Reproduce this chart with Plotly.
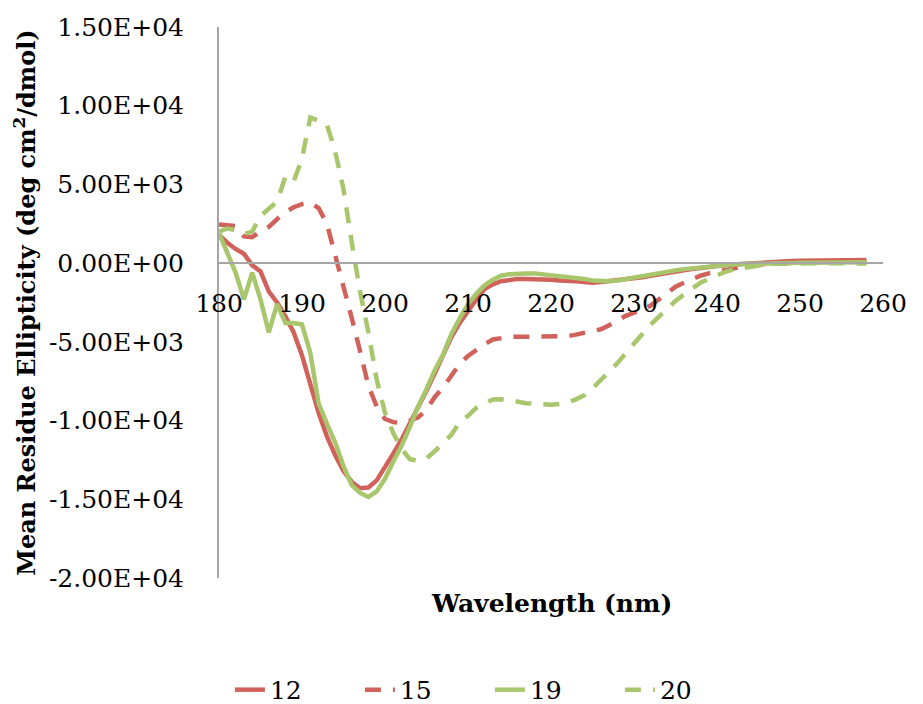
import plotly.graph_objects as go

# Wavelength grid (nm)
wavelength = list(range(180, 259))

# Mean residue ellipticity (deg cm^2/dmol) for each sample
mre_12 = [
    1800, 1300, 900, 600, -140, -520, -1800, -2500, -3380, -4400,
    -5860, -7700, -9500, -11000, -12200, -13200, -13900, -14300, -14250, -13800,
    -13000, -12100, -11200, -10200, -9100, -8100, -7000, -5900, -4700, -3800,
    -3000, -2300, -1650, -1350, -1150, -1050, -1000, -1000, -1000, -1050,
    -1050, -1100, -1100, -1150, -1200, -1250, -1200, -1150, -1100, -1050,
    -950, -900, -800, -700, -600, -520, -450, -380, -300, -230,
    -170, -120, -80, -40, 0, 30, 60, 90, 110, 130,
    150, 160, 170, 180, 190, 200, 200, 200, 200,
]
mre_15 = [
    2450, 2400, 2350, 1700, 1650, 2000, 2300, 2800, 3250, 3550,
    3750, 3850, 3500, 2500, 500, -1300, -3500, -5600, -7800, -9100,
    -9900, -10100, -10150, -10000, -9800, -9300, -8500, -7900, -7180, -6400,
    -5900, -5480, -5150, -4850, -4750, -4680, -4680, -4680, -4680, -4680,
    -4680, -4660, -4640, -4540, -4420, -4300, -4200, -3950, -3650, -3350,
    -3150, -2950, -2700, -2300, -1900, -1500, -1250, -1000, -800, -650,
    -550, -420, -300, -200, -130, -80, -40, 0, 20, 40,
    50, 60, 70, 80, 90, 90, 100, 100, 100,
]
mre_19 = [
    1900, 600, -600, -2300, -600, -2300, -4400, -2600, -3800, -3800,
    -3900, -5700, -8900, -10200, -11400, -12900, -14100, -14600, -14850, -14500,
    -13700, -12600, -11600, -10400, -9100, -8000, -6800, -5800, -4500, -3500,
    -2600, -1950, -1400, -1050, -800, -700, -650, -650, -650, -700,
    -750, -800, -850, -900, -1000, -1100, -1150, -1150, -1100, -1000,
    -900, -800, -700, -620, -540, -460, -380, -320, -260, -200,
    -150, -110, -80, -60, -40, -30, -20, -10, 0, 10,
    20, 30, 40, 40, 50, 50, 60, 60, 60,
]
mre_20 = [
    2000, 2200, 2100, 1850, 2000, 3000, 3450, 3900, 5500, 5200,
    6650, 9250, 9050, 8800, 7100, 4700, 1300, -1800, -4400, -7400,
    -9500, -10800, -11800, -12450, -12550, -12400, -11950, -11400, -10900, -10100,
    -9700, -9200, -8900, -8660, -8650, -8700, -8800, -8900, -8950, -9000,
    -9000, -8950, -8850, -8650, -8400, -7950, -7450, -6900, -6350, -5700,
    -5150, -4500, -3900, -3400, -2900, -2400, -2000, -1600, -1250, -1000,
    -750, -550, -400, -300, -200, -120, -70, -40, -20, 0,
    0, 0, 0, 0, 0, 0, -20, -20, -20,
]

series_names = ["12", "15", "19", "20"]
series_values = [mre_12, mre_15, mre_19, mre_20]
series_colors = ["#D0625B", "#D0625B", "#A8C66C", "#A8C66C"]
series_dashes = ["solid", "16px,12px", "solid", "16px,12px"]

x_ticks = [180, 190, 200, 210, 220, 230, 240, 250, 260]
y_ticks = [15000, 10000, 5000, 0, -5000, -10000, -15000, -20000]
y_tick_text = ["1.50E+04", "1.00E+04", "5.00E+03", "0.00E+00",
               "-5.00E+03", "-1.00E+04", "-1.50E+04", "-2.00E+04"]

x_range = [180, 260]
y_range = [-20000, 15000]

fig = go.Figure()
for name, vals, color, dash in zip(series_names, series_values, series_colors, series_dashes):
    fig.add_trace(go.Scatter(
        x=wavelength, y=vals, mode="lines", name=name,
        line=dict(color=color, width=4.5, dash=dash),
    ))

axis_color = "#A6A6A6"
# horizontal axis crosses the vertical axis at zero
zero_pos = (0 - y_range[0]) / (y_range[1] - y_range[0])

fig.update_layout(
    width=923, height=704,
    margin=dict(l=219, r=40, t=27, b=126, autoexpand=False),
    plot_bgcolor="white", paper_bgcolor="white",
    font=dict(family="DejaVu Serif", size=25, color="black"),
    showlegend=True,
    legend=dict(
        orientation="h", x=0.408, xanchor="center",
        yref="container", y=0.02, yanchor="middle",
        font=dict(size=25), entrywidth=85, tracegroupgap=0,
    ),
    xaxis=dict(
        range=x_range, tickvals=x_ticks, showgrid=False, zeroline=False,
        showline=True, linecolor=axis_color, linewidth=2,
        anchor="free", position=zero_pos, ticks="", ticklabelstandoff=18,
    ),
    yaxis=dict(
        range=y_range, tickvals=y_ticks, ticktext=y_tick_text,
        showgrid=False, zeroline=False, showline=True,
        linecolor=axis_color, linewidth=2, ticks="", ticklabelstandoff=28,
        title=dict(
            text="<b>Mean Residue Ellipticity (deg cm<sup>2</sup>/dmol)</b>",
            font=dict(size=24), standoff=6,
        ),
    ),
    annotations=[dict(
        text="<b>Wavelength (nm)</b>", xref="paper", yref="paper",
        x=0.5, y=-0.047, xanchor="center", yanchor="middle",
        showarrow=False, font=dict(size=25),
    )],
)

fig.write_html("out.html")
